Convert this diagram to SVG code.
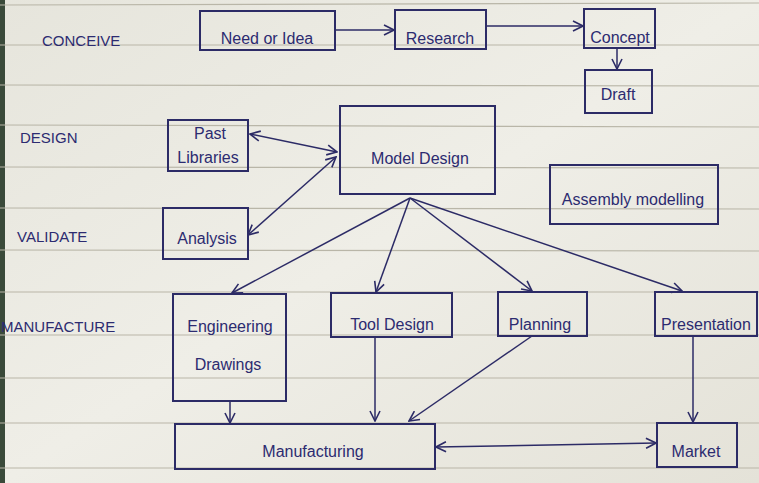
<svg xmlns="http://www.w3.org/2000/svg" width="759" height="483" viewBox="0 0 759 483">
<defs>
<linearGradient id="paper" x1="0" y1="0" x2="1" y2="1">
<stop offset="0" stop-color="#e6e5dc"/>
<stop offset="0.5" stop-color="#efeee7"/>
<stop offset="1" stop-color="#e4e2d8"/>
</linearGradient>
<marker id="ah" viewBox="0 0 12 12" refX="11" refY="6" markerWidth="12" markerHeight="12" markerUnits="userSpaceOnUse" orient="auto-start-reverse">
<path d="M1,1 L11,6 L1,11" fill="none" stroke="#2c2b66" stroke-width="1.6"/>
</marker>
<style>
.box{fill:none;stroke:#2c2b66;stroke-width:2}
.ln{fill:none;stroke:#2c2b66;stroke-width:1.5}
.rule{stroke:#b9b6a8;stroke-width:1.2}
.t{font-family:"Liberation Sans","DejaVu Sans",sans-serif;fill:#2c2b70;font-size:16px;text-anchor:middle}
.lab{font-family:"Liberation Sans","DejaVu Sans",sans-serif;fill:#2c2b70;font-size:15px}
</style>
</defs>
<rect width="759" height="483" fill="url(#paper)"/>
<rect x="0" y="0" width="5" height="483" fill="#3a4a3a"/>
<g id="rules">
<line class="rule" x1="0" y1="5" x2="759" y2="3"/>
<line class="rule" x1="0" y1="45" x2="759" y2="45"/>
<line class="rule" x1="0" y1="85" x2="759" y2="86"/>
<line class="rule" x1="0" y1="125" x2="759" y2="127"/>
<line class="rule" x1="0" y1="167" x2="759" y2="168"/>
<line class="rule" x1="0" y1="208" x2="759" y2="209"/>
<line class="rule" x1="0" y1="250" x2="759" y2="251"/>
<line class="rule" x1="0" y1="292" x2="759" y2="292"/>
<line class="rule" x1="0" y1="335" x2="759" y2="335"/>
<line class="rule" x1="0" y1="378" x2="759" y2="378"/>
<line class="rule" x1="0" y1="423" x2="759" y2="423"/>
<line class="rule" x1="0" y1="468" x2="759" y2="468"/>
</g>
<g id="labels">
<text class="lab" x="42" y="46">CONCEIVE</text>
<text class="lab" x="20" y="143">DESIGN</text>
<text class="lab" x="17" y="242">VALIDATE</text>
<text class="lab" x="1" y="332">MANUFACTURE</text>
</g>
<g id="connectors">
<line class="ln" x1="335" y1="30" x2="394" y2="30" marker-end="url(#ah)"/>
<line class="ln" x1="486" y1="26" x2="583" y2="26" marker-end="url(#ah)"/>
<line class="ln" x1="617" y1="48" x2="617" y2="69" marker-end="url(#ah)"/>
<line class="ln" x1="250" y1="134" x2="337" y2="152" marker-start="url(#ah)" marker-end="url(#ah)"/>
<line class="ln" x1="248" y1="235" x2="336" y2="157" marker-start="url(#ah)" marker-end="url(#ah)"/>
<line class="ln" x1="410" y1="198" x2="232" y2="293" marker-end="url(#ah)"/>
<line class="ln" x1="410" y1="198" x2="376" y2="292" marker-end="url(#ah)"/>
<line class="ln" x1="410" y1="198" x2="532" y2="291" marker-end="url(#ah)"/>
<line class="ln" x1="410" y1="198" x2="682" y2="291" marker-end="url(#ah)"/>
<line class="ln" x1="230" y1="401" x2="230" y2="423" marker-end="url(#ah)"/>
<line class="ln" x1="375" y1="337" x2="375" y2="421" marker-end="url(#ah)"/>
<line class="ln" x1="532" y1="336" x2="409" y2="421" marker-end="url(#ah)"/>
<line class="ln" x1="693" y1="336" x2="693" y2="422" marker-end="url(#ah)"/>
<line class="ln" x1="436" y1="447" x2="656" y2="443" marker-start="url(#ah)" marker-end="url(#ah)"/>
</g>
<g id="need-or-idea">
<rect class="box" x="200" y="11" width="135" height="39"/>
<text class="t" x="267" y="44" font-size="18">Need or Idea</text>
</g>
<g id="research">
<rect class="box" x="395" y="10" width="91" height="39"/>
<text class="t" x="440" y="44">Research</text>
</g>
<g id="concept">
<rect class="box" x="584" y="9" width="71" height="39"/>
<text class="t" x="620" y="43">Concept</text>
</g>
<g id="draft">
<rect class="box" x="585" y="70" width="67" height="43"/>
<text class="t" x="618" y="100" font-size="18">Draft</text>
</g>
<g id="past-libraries">
<rect class="box" x="168" y="120" width="80" height="51"/>
<text class="t" x="210" y="139">Past</text>
<text class="t" x="208" y="163">Libraries</text>
</g>
<g id="model-design">
<rect class="box" x="340" y="106" width="155" height="88"/>
<text class="t" x="420" y="164" font-size="20">Model Design</text>
</g>
<g id="assembly-modelling">
<rect class="box" x="550" y="165" width="168" height="59"/>
<text class="t" x="633" y="205" font-size="17">Assembly modelling</text>
</g>
<g id="analysis">
<rect class="box" x="163" y="208" width="85" height="51"/>
<text class="t" x="207" y="244">Analysis</text>
</g>
<g id="engineering-drawings">
<rect class="box" x="173" y="294" width="113" height="107"/>
<text class="t" x="230" y="332">Engineering</text>
<text class="t" x="228" y="370">Drawings</text>
</g>
<g id="tool-design">
<rect class="box" x="331" y="293" width="121" height="44"/>
<text class="t" x="392" y="330" font-size="17">Tool Design</text>
</g>
<g id="planning">
<rect class="box" x="498" y="292" width="89" height="44"/>
<text class="t" x="540" y="330" font-size="17">Planning</text>
</g>
<g id="presentation">
<rect class="box" x="655" y="292" width="102" height="44"/>
<text class="t" x="706" y="330">Presentation</text>
</g>
<g id="manufacturing">
<rect class="box" x="175" y="424" width="260" height="45"/>
<text class="t" x="313" y="457" font-size="18">Manufacturing</text>
</g>
<g id="market">
<rect class="box" x="657" y="423" width="80" height="44"/>
<text class="t" x="696" y="457" font-size="17">Market</text>
</g>
</svg>
